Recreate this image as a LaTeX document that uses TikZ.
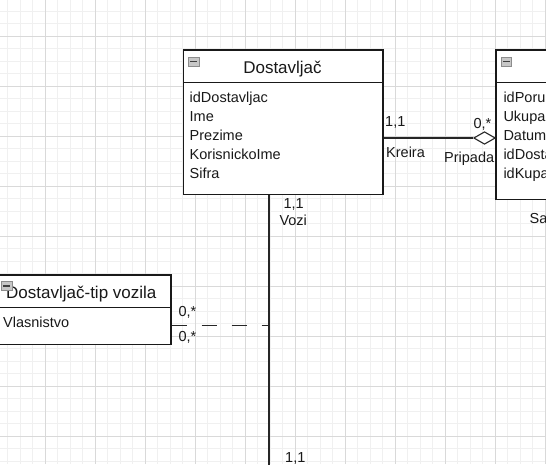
\documentclass[tikz,border=0pt]{standalone}
\usepackage{fontspec}
\setmainfont{Liberation Sans}
\usetikzlibrary{shapes.geometric}
\begin{document}
\begin{tikzpicture}[x=1pt,y=-1pt,
  gridminor/.style={draw=black!6, line width=0.9pt},
  gridmajor/.style={draw=black!15, line width=1pt},
  entbox/.style={draw=black!90, fill=white, line width=1.3pt, rectangle, inner sep=0pt, anchor=north west},
  attr/.style={anchor=base west, inner sep=0pt, font=\fontsize{14.5}{17}\selectfont, text=black!90},
  entitle/.style={anchor=base, inner sep=0pt, font=\fontsize{17}{20}\selectfont, text=black!90},
  minusicon/.style={draw=black!45, fill=black!22, line width=0.8pt, minimum width=10.5pt, minimum height=9.5pt, inner sep=0pt, anchor=north west,
    path picture={\draw[black!75,line width=1.3pt] ([xshift=1.8pt]path picture bounding box.west) -- ([xshift=-1.8pt]path picture bounding box.east);}},
  conn/.style={draw=black!85, line width=1.1pt},
  aggdiamond/.style={diamond, draw=black!85, fill=white, line width=1.1pt, inner sep=0pt, minimum width=21.6pt, minimum height=12.6pt, aspect=1.7},
]
\useasboundingbox (0,0) rectangle (546,464);
\clip (0,0) rectangle (546,464);
\fill[white] (0,0) rectangle (546,464);
% grid
\foreach \i in {0,...,44} { \draw[gridminor] ({7.8+12.5*\i},0) -- ({7.8+12.5*\i},464); }
\foreach \i in {0,...,37} { \draw[gridminor] (0,{11+12.5*\i}) -- (546,{11+12.5*\i}); }
\foreach \i in {0,...,10} { \draw[gridmajor] ({45.3+50*\i},0) -- ({45.3+50*\i},464); }
\foreach \i in {0,...,8} { \draw[gridmajor] (0,{36+50*\i}) -- (546,{36+50*\i}); }

% Dostavljac entity
\node[entbox, minimum width=199.6pt, minimum height=32.4pt] (dosthead) at (182.7,49.3) {};
\node[entbox, minimum width=199.6pt, minimum height=112.3pt] (dostbody) at (182.7,81.7) {};
\node[minusicon] (dostmin) at (188.2,56.6) {};
\node[entitle] (dosttitle) at (282.5,73.3) {Dostavljač};
\node[attr] (d1) at (189.5,102.5) {idDostavljac};
\node[attr] (d2) at (189.5,121.5) {Ime};
\node[attr] (d3) at (189.5,140.5) {Prezime};
\node[attr] (d4) at (189.5,159.5) {KorisnickoIme};
\node[attr] (d5) at (189.5,178.5) {Sifra};

% right entity (partly outside)
\node[entbox, minimum width=120pt, minimum height=32.4pt] (porhead) at (495.3,49.3) {};
\node[entbox, minimum width=120pt, minimum height=117.3pt] (porbody) at (495.3,81.7) {};
\node[minusicon] (pormin) at (500.8,56.6) {};
\node[attr] (p1) at (503.3,102.5) {idPoru};
\node[attr] (p2) at (503.3,121.5) {Ukupa};
\node[attr] (p3) at (503.3,140.5) {Datum};
\node[attr] (p4) at (503.3,159.5) {idDosta};
\node[attr] (p5) at (503.3,178.5) {idKupa};
\node[attr] (sa) at (529.5,223.5) {Sa};

% Dostavljac-tip vozila entity
\node[entbox, minimum width=190pt, minimum height=32.4pt] (tiphead) at (-19.7,274.3) {};
\node[entbox, minimum width=190pt, minimum height=37.3pt] (tipbody) at (-19.7,306.7) {};
\node[entitle, anchor=base west] (tiptitle) at (6,298.3) {Dostavljač-tip vozila};
\node[minusicon] (tipmin) at (1,280.8) {};
\node[attr] (t1) at (3,327.3) {Vlasnistvo};

% connectors
\node[aggdiamond] (dia) at (484.5,138) {};
\draw[conn] (dostbody.east |- dia.west) -- (dia.west);
\coordinate (voziEnd) at (269,470);
\draw[conn] (dostbody.south -| voziEnd) -- (voziEnd);
\coordinate (dashEnd) at (269,325.3);
\draw[conn, dash pattern=on 15pt off 15pt] (tipbody.east |- dashEnd) -- (dashEnd);

% labels
\node[attr] (l11a) at (385,126.7) {1,1};
\node[attr] (lkreira) at (386,157.3) {Kreira};
\node[attr] (l0a) at (473.3,128.7) {0,*};
\node[attr] (lpripada) at (444,162.5) {Pripada};
\node[attr] (l11b) at (283.3,208.3) {1,1};
\node[attr] (lvozi) at (279.3,225.3) {Vozi};
\node[attr] (l11c) at (285,462.5) {1,1};
\node[attr] (l0b) at (178.3,316.7) {0,*};
\node[attr] (l0c) at (178.3,341.7) {0,*};
\end{tikzpicture}
\end{document}
